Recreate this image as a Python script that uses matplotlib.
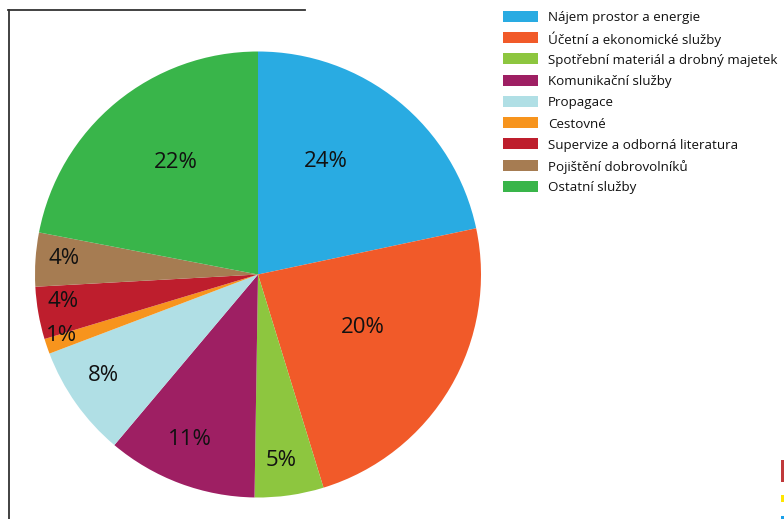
import matplotlib
matplotlib.use("Agg")
import matplotlib.pyplot as plt
import numpy as np
from matplotlib.lines import Line2D
from matplotlib.patches import Rectangle

categories = ["Nájem prostor a energie", "Účetní a ekonomické služby",
              "Spotřební materiál a drobný majetek", "Komunikační služby",
              "Propagace", "Cestovné", "Supervize a odborná literatura",
              "Pojištění dobrovolníků", "Ostatní služby"]
values = [21.7, 23.6, 5.0, 10.9, 8.1, 1.1, 3.8, 3.9, 22.0]
pct_labels = ["24%", "20%", "5%", "11%", "8%", "1%", "4%", "4%", "22%"]
colors = ["#29abe2", "#f15a29", "#8dc63f", "#9e1f63", "#b0dfe5",
          "#f7941d", "#be1e2d", "#a67c52", "#39b54a"]

# layout for labels (radius fraction, angle offset in degrees)
lab_r = [0.60, 0.52, 0.83, 0.79, 0.82, 0.92, 0.88, 0.875, 0.63]
lab_da = [8.4, 4.9, -0.8, -2.2, -2.8, -2.2, -2.8, -1.5, -3.8]

plt.rcParams['font.family'] = ['Open Sans', 'DejaVu Sans']

W, H = 784, 519
fig = plt.figure(figsize=(W / 100, H / 100), dpi=100)
cx, cy, R = 258, 274.5, 223
ax = fig.add_axes([(cx - R) / W, (H - cy - R) / H, 2 * R / W, 2 * R / H])
wedges, _ = ax.pie(values, colors=colors, startangle=90, counterclock=False,
                   radius=1, wedgeprops=dict(linewidth=0))
ax.set_xlim(-1, 1)
ax.set_ylim(-1, 1)
ax.set_aspect('equal')
ax.axis('off')

for w, lab, r, da in zip(wedges, pct_labels, lab_r, lab_da):
    ang = np.deg2rad((w.theta1 + w.theta2) / 2 + da)
    ax.text(r * np.cos(ang), r * np.sin(ang), lab, ha='center', va='center_baseline',
            fontsize=16, color='#111111')

# legend drawn as rows
row0, step = 16.3, 21.25
for i, (cat, col) in enumerate(zip(categories, colors)):
    yc = row0 + step * i
    fig.add_artist(Rectangle((503 / W, 1 - (yc + 5.5) / H), 35 / W, 11 / H,
                             transform=fig.transFigure, color=col, lw=0))
    fig.text(548 / W, 1 - yc / H, cat, ha='left', va='center_baseline',
             fontsize=9.6, color='#111111')

# frame lines
fig.add_artist(Line2D([8 / W, 305 / W], [1 - 10 / H, 1 - 10 / H],
                      transform=fig.transFigure, color='#333333', lw=1.3))
fig.add_artist(Line2D([9 / W, 9 / W], [1 - 10 / H, 0],
                      transform=fig.transFigure, color='#333333', lw=1.3))

# small cut-off marks at bottom right
for y0, y1, c in [(460, 482, '#c0393b'), (495, 502, '#ffe600'), (516, 519, '#1aa0e8')]:
    fig.add_artist(Rectangle((781 / W, 1 - y1 / H), 3 / W, (y1 - y0) / H,
                             transform=fig.transFigure, color=c, lw=0))

fig.savefig("out.png", dpi=100)
